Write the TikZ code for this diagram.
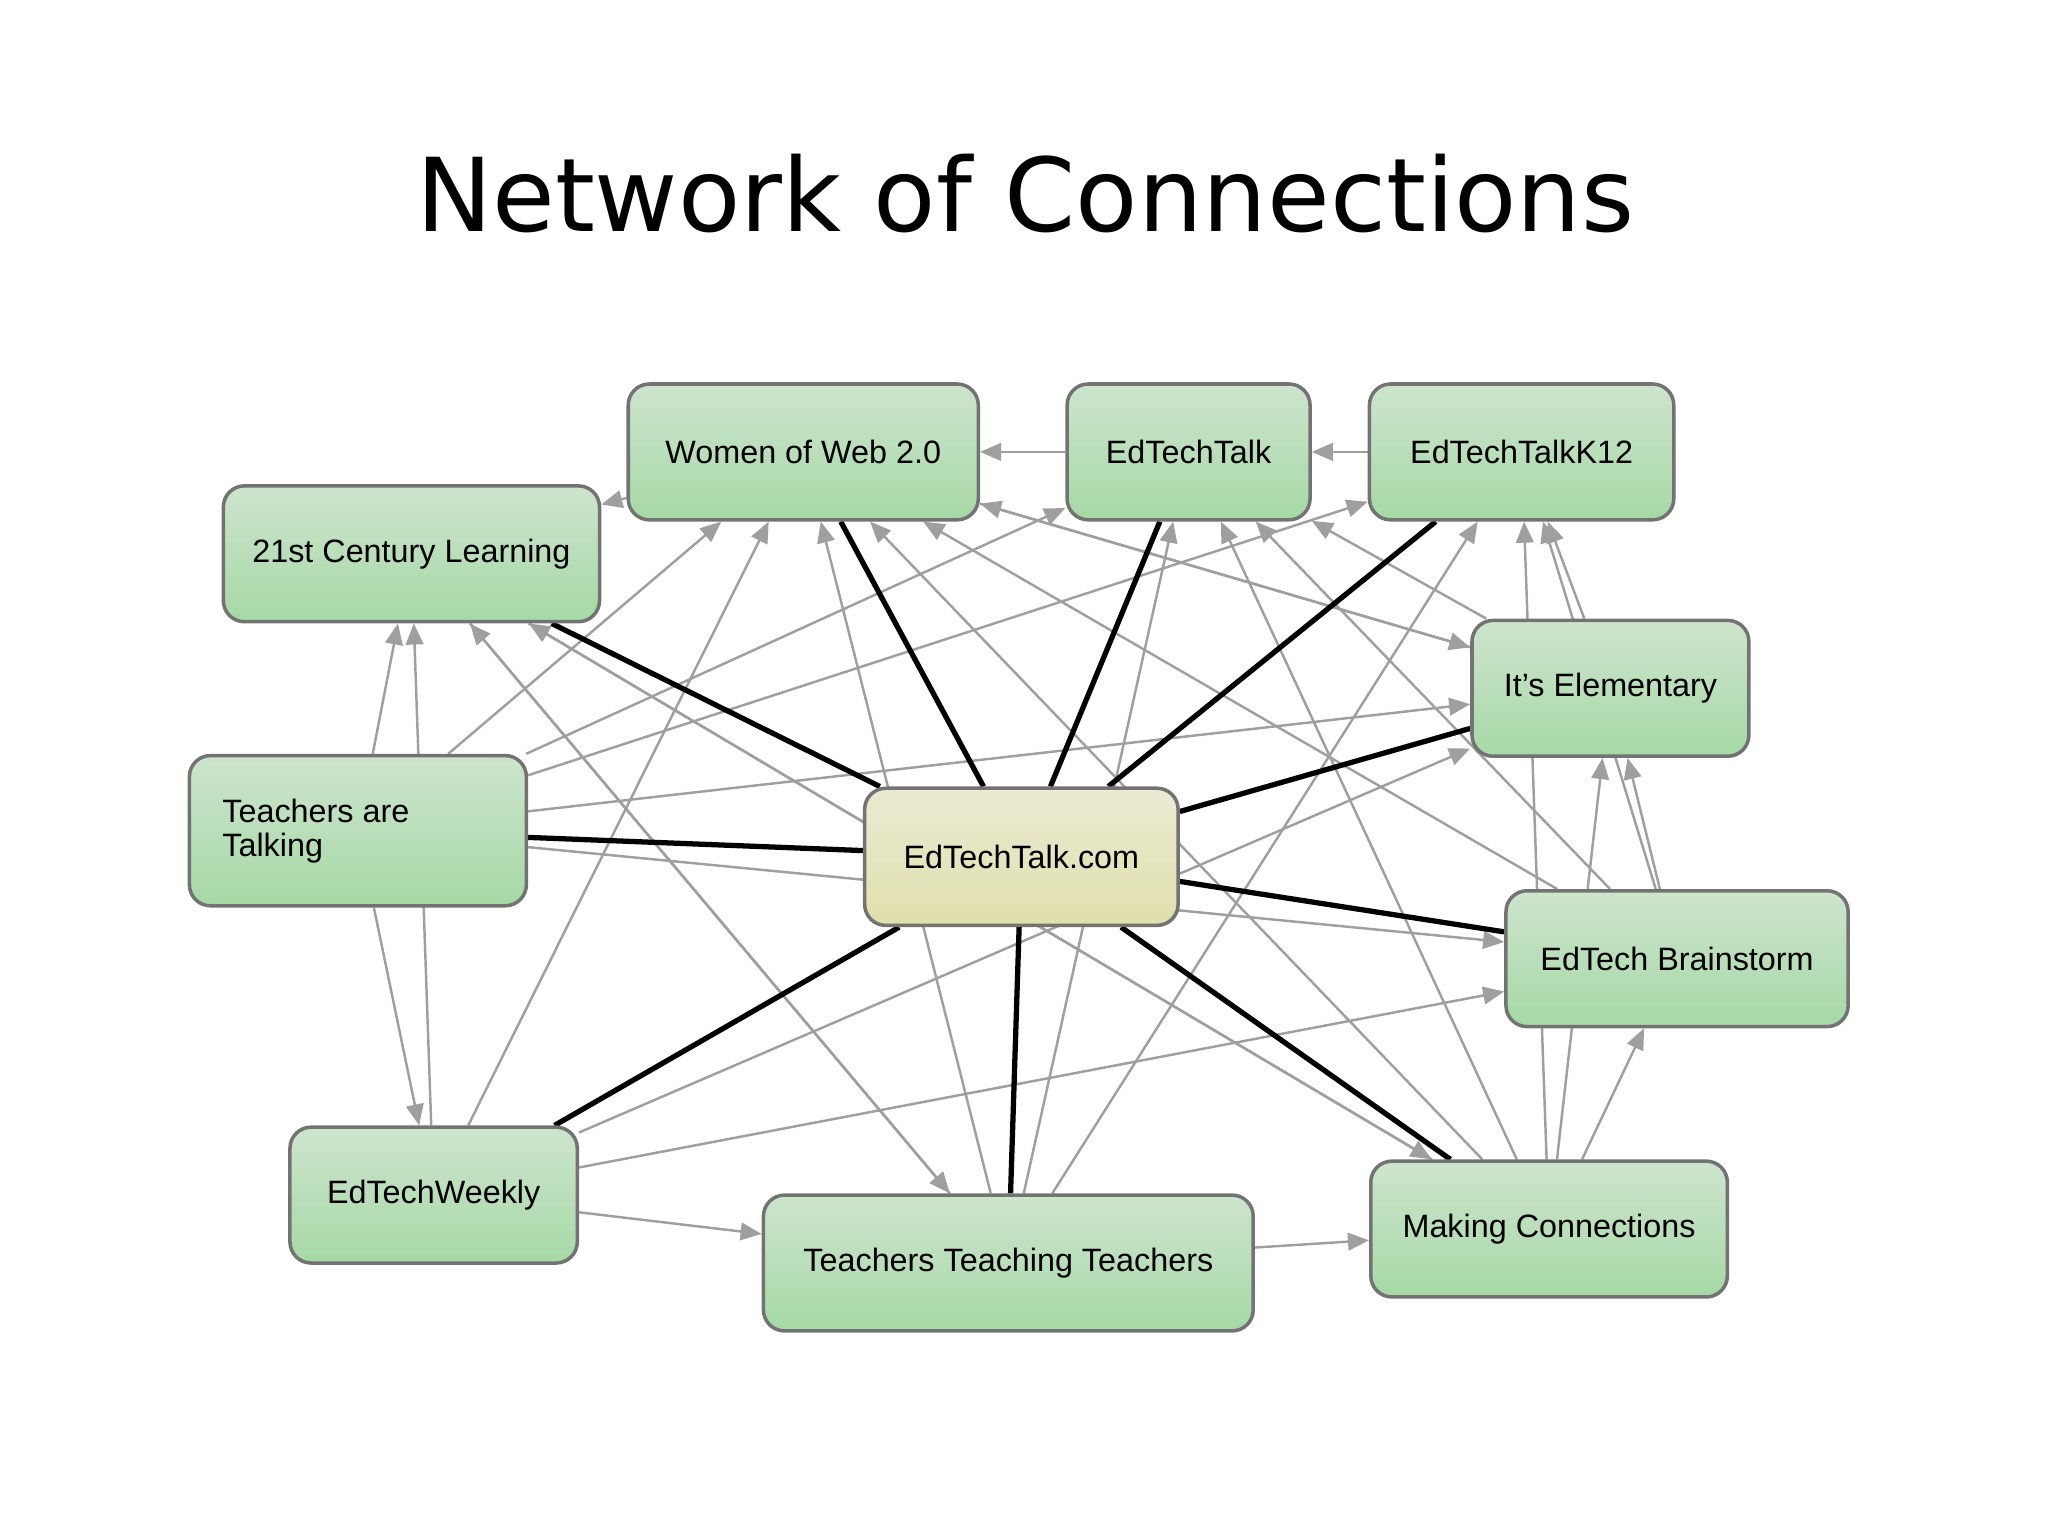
\documentclass[tikz,border=0pt]{standalone}
\usepackage{fontspec}
\setmainfont{Liberation Sans}
\newfontfamily\titlefont{DejaVu Sans}
\usetikzlibrary{arrows.meta,backgrounds}
\begin{document}
\begin{tikzpicture}[x=0.01306cm,y=-0.01306cm,
box/.style={draw=black!55,line width=1pt,rounded corners=6pt,top color=green!30!gray!30,bottom color=green!40!gray!50,font=\fontsize{9.2}{9.7}\selectfont,align=left,inner sep=0pt},
hub/.style={box,top color=yellow!35!gray!25,bottom color=yellow!45!gray!45},
ga/.style={draw=gray!75,line width=0.7pt,-{Triangle[length=6pt,width=5pt]}},
bk/.style={draw=black,line width=1.5pt}]
\useasboundingbox (0,0) rectangle (1568,1176);
\node[font=\titlefont\fontsize{29}{32}\selectfont] (title) at (785,148) {Network of Connections};
\def\bx#1#2#3#4#5#6#7{\node[#7,minimum width=#4*0.01306cm,minimum height=#5*0.01306cm] (#1) at (#2,#3) {#6};}
\bx{wow}{615}{346}{268}{104}{Women of Web 2.0}{box}
\bx{ett}{910}{346}{186}{104}{EdTechTalk}{box}
\bx{k12}{1165}{346}{233}{104}{EdTechTalkK12}{box}
\bx{c21}{315}{424}{288}{104}{21st Century Learning}{box}
\bx{ele}{1233}{527}{212}{104}{It's Elementary}{box}
\bx{tat}{274}{636}{258}{115}{\hspace*{-2.6em}Teachers are\\\hspace*{-2.6em}Talking}{box}
\bx{hub}{782}{656}{240}{105}{EdTechTalk.com}{hub}
\bx{ebs}{1284}{734}{262}{104}{EdTech Brainstorm}{box}
\bx{etw}{332}{915}{220}{104}{EdTechWeekly}{box}
\bx{ttt}{772}{967}{375}{104}{Teachers Teaching Teachers}{box}
\bx{mc}{1186}{941}{273}{104}{Making Connections}{box}
\begin{scope}[on background layer]
\foreach \a/\b in {ett/wow,k12/ett,wow/c21,
 tat/c21,tat/etw,tat/wow,tat/ett,tat/k12,tat/ele,tat/ebs,
 etw/c21,etw/wow,etw/ele,etw/ebs,etw/ttt,
 ttt/c21,ttt/wow,ttt/ett,ttt/k12,ttt/mc,
 c21/ttt,c21/mc,mc/c21,mc/wow,mc/ett,mc/k12,mc/ebs,mc/ele,
 ebs/wow,ebs/ett,ebs/k12,ebs/ele,ele/wow,ele/ett,ele/k12,wow/ele}
  \draw[ga] (\a) -- (\b);
\foreach \b in {wow,ett,k12,c21,ele,tat,ebs,etw,ttt,mc}
  \draw[bk] (hub) -- (\b);
\end{scope}
\end{tikzpicture}
\end{document}
